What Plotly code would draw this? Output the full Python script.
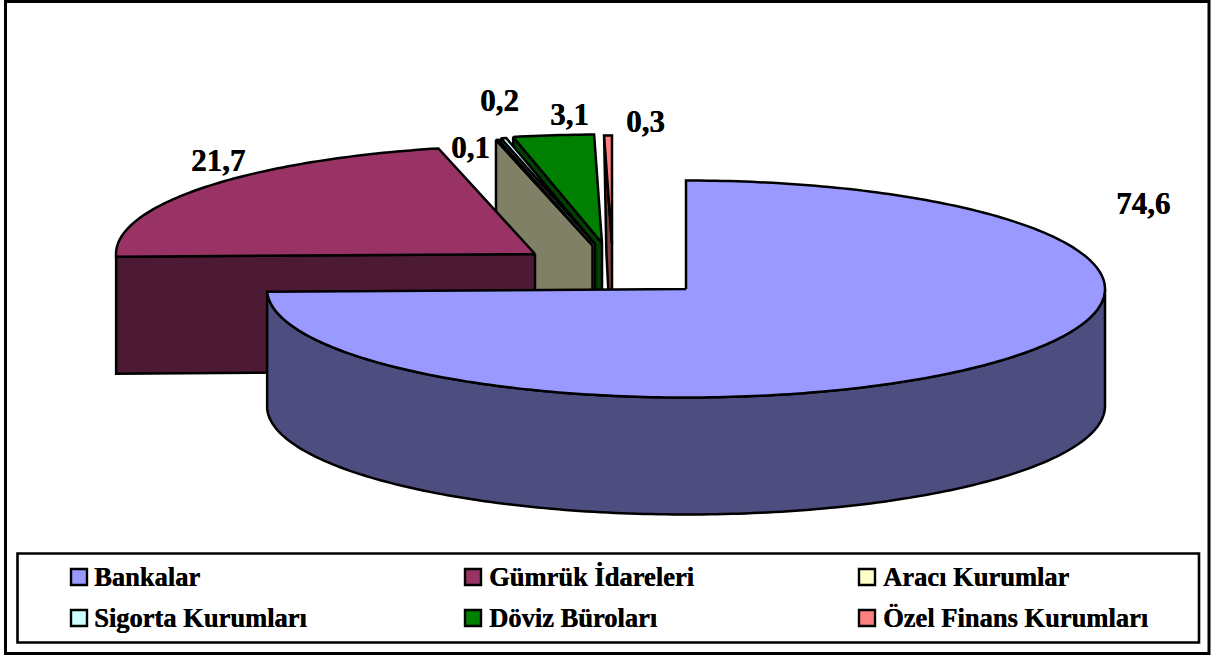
import math
import plotly.graph_objects as go

# ---- data ----
categories = ["Bankalar", "Gümrük İdareleri", "Aracı Kurumlar",
              "Sigorta Kurumları", "Döviz Büroları", "Özel Finans Kurumları"]
values = [74.6, 21.7, 0.1, 0.2, 3.1, 0.3]
value_labels = ["74,6", "21,7", "0,1", "0,2", "3,1", "0,3"]

# ---- styles ----
top_colors = ["#9999FF", "#993366", "#FFFFCC", "#CCFFFF", "#008000", "#FF8080"]
side_colors = ["#4D4D80", "#4D1A33", "#808066", "#668080", "#004000", "#804040"]

# ---- pie geometry, in page pixels ----
RX, RY, DEPTH = 419.0, 108.5, 117.0
centers_x = [686, 535, 592.5, 595, 602, 612]
centers_y = [289, 254, 245.5, 244, 243, 244]
wall_inset = [0, 0, 0, 0, 0, 2.3]
label_x = [1143, 218, 470.5, 499, 569, 645]
label_y = [203.5, 160, 147.5, 100.5, 114.5, 121.5]
legend_marker_x = [79, 473, 867, 79, 473, 867]
legend_text_x = [92, 487, 881, 92, 487, 881]
legend_y = [577, 577, 577, 618, 618, 618]

LINE = 2.5
FONT = "Liberation Serif"
HEAVY = "0.4px 0 0 #000000"


def rim(cx, cy, a0, a1, dy=0.0):
    n = max(2, int(abs(a1 - a0)) + 2)
    xs, ys = [], []
    for i in range(n):
        a = math.radians(a0 + (a1 - a0) * i / (n - 1))
        xs.append(cx + RX * math.sin(a))
        ys.append(cy - RY * math.cos(a) + dy)
    return xs, ys


def poly(fig, xs, ys, fill, name):
    fig.add_trace(go.Scatter(
        x=xs + xs[:1], y=ys + ys[:1], mode="lines", fill="toself", fillcolor=fill,
        line=dict(color="#000000", width=LINE, simplify=False), name=name,
        hoverinfo="skip", showlegend=False))


fig = go.Figure()

# slice angle spans, clockwise from 12 o'clock
starts, acc = [], 0.0
for v in values:
    starts.append(acc)
    acc += v / sum(values) * 360.0
ends = starts[1:] + [360.0]

# back slices first, Bankalar last (painter's order)
for i in [5, 4, 3, 2, 1]:
    cx, cy = centers_x[i], centers_y[i]
    rx, ry = rim(cx, cy, starts[i], ends[i])
    # cut face on the leading edge
    poly(fig, [cx, rx[0], rx[0] + wall_inset[i], cx],
         [cy, ry[0], ry[0] + DEPTH, cy + DEPTH],
         side_colors[i], categories[i] + " side")
    poly(fig, [cx] + rx, [cy] + ry, top_colors[i], categories[i])

# Bankalar: visible outer wall and top
cx, cy = centers_x[0], centers_y[0]
wx, wy = rim(cx, cy, 90.0, ends[0])
bx, by = rim(cx, cy, ends[0], 90.0, DEPTH)
poly(fig, wx + bx, wy + by, side_colors[0], categories[0] + " side")
rx, ry = rim(cx, cy, starts[0], ends[0])
poly(fig, [cx] + rx, [cy] + ry, top_colors[0], categories[0])

# legend markers
for i, c in enumerate(categories):
    fig.add_trace(go.Scatter(
        x=[legend_marker_x[i]], y=[legend_y[i]], mode="markers", name=c,
        marker=dict(symbol="square", size=16, color=top_colors[i],
                    line=dict(color="#000000", width=2.4)),
        hoverinfo="skip", showlegend=False))

annotations = []
for i, t in enumerate(value_labels):
    annotations.append(dict(x=label_x[i], y=label_y[i], text=t, showarrow=False,
                            xref="x", yref="y", xanchor="center", yanchor="middle",
                            font=dict(family=FONT, size=31, color="#000000",
                                      weight="bold", shadow=HEAVY)))
for i, c in enumerate(categories):
    annotations.append(dict(x=legend_text_x[i], y=legend_y[i], text=c, showarrow=False,
                            xref="x", yref="y", xanchor="left", yanchor="middle",
                            font=dict(family=FONT, size=26.5, color="#000000",
                                      weight="bold", shadow=HEAVY)))

shapes = [
    dict(type="rect", xref="x", yref="y", x0=5.5, y0=1.5, x1=1209, y1=653.5,
         line=dict(color="#000000", width=3), layer="below"),
    dict(type="rect", xref="x", yref="y", x0=17.5, y0=553.5, x1=1199, y1=642.5,
         line=dict(color="#000000", width=2.6), fillcolor="#FFFFFF", layer="below"),
]

fig.update_layout(
    width=1211, height=655, margin=dict(l=0, r=0, t=0, b=0),
    paper_bgcolor="#FFFFFF", plot_bgcolor="#FFFFFF", showlegend=False,
    xaxis=dict(range=[0, 1211], visible=False, fixedrange=True),
    yaxis=dict(range=[655, 0], visible=False, fixedrange=True),
    annotations=annotations, shapes=shapes,
)

fig.write_html("out.html", config={"displayModeBar": False},
               post_script="document.body.style.margin='0';document.body.style.overflow='hidden';")
